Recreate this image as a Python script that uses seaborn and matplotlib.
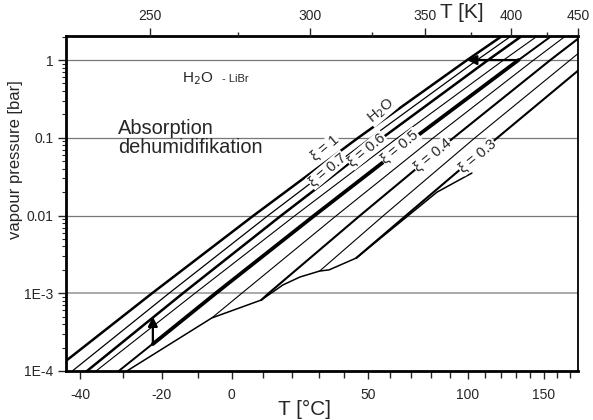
import numpy as np
import pandas as pd
import matplotlib
matplotlib.use("Agg")
import matplotlib.pyplot as plt
import seaborn as sns
from matplotlib.ticker import FixedLocator, LogLocator, NullFormatter

# --- data (T in degC, vapour pressure in bar) ---
p_levels = [1e-4, 1e-3, 1e-2, 0.1, 1.0, 2.04]

water_t = [-43.2, -22.6, 7.0, 45.8, 99.6, 120.9]
water_p = [1.35e-4, 1e-3, 1e-2, 0.1, 1.0, 2.04]

xi70_t = [-41.8, -18.1, 11.8, 51.1, 105.4, 126.9]
xi60_t = [-38.5, -14.3, 16.3, 56.4, 112.1, 134.1]
xi55_t = [-36.4, -10.9, 21.2, 63.4, 121.9, 145.1]
xi50_t = [-31.0, -4.8, 28.3, 71.6, 131.8, 155.6]

xi45_t = [-6.0, 3.2, 36.9, 81.1, 142.4, 166.7]
xi45_p = [4.81e-4, 1e-3, 1e-2, 0.1, 1.0, 2.04]
xi40_t = [9.5, 12.0, 46.6, 91.9, 154.7, 176.85]
xi40_p = [8.18e-4, 1e-3, 1e-2, 0.1, 1.0, 1.88]
xi35_t = [30.3, 56.9, 104.2, 176.85]
xi35_p = [1.93e-3, 1e-2, 0.1, 1.21]
xi30_t = [45.0, 67.4, 97.3, 117.9, 176.85]
xi30_p = [2.84e-3, 1e-2, 0.0421, 0.1, 0.73]

# crystallisation boundary
cryst_t = [-29.0, -6.0, 9.5, 16.9, 23.0, 30.3, 34.0, 45.0, 83.0, 102.4]
cryst_p = [1e-4, 4.81e-4, 8.18e-4, 1.28e-3, 1.62e-3, 1.93e-3, 2.0e-3, 2.84e-3, 2.0e-2, 3.52e-2]

# absorption process along xi = 0.5 (heavy)
proc_t = [-22.4, -4.8, 28.3, 71.6, 131.8]
proc_p = [2.22e-4, 1e-3, 1e-2, 0.1, 1.0]
arrow_up_t, arrow_up_p0, arrow_up_p1 = -22.4, 2.22e-4, 5.0e-4
arrow_left_t0, arrow_left_t1, arrow_left_p = 131.8, 99.6, 1.0

labels = ["ξ = 1", "ξ = 0.7", "ξ = 0.6", "ξ = 0.5", "ξ = 0.4", "ξ = 0.3"]
label_t = [32.4, 33.3, 49.6, 64.5, 80.6, 105.5]
label_p = [0.0738, 0.0385, 0.0695, 0.076, 0.060, 0.058]

bottom_ticks = [-40, -20, 0, 50, 100, 150]
bottom_minor = list(range(-40, 180, 10))
top_ticks_k = [250, 300, 350, 400, 450]
top_minor_k = [275, 325, 375, 425]
y_ticks = [1e-4, 1e-3, 1e-2, 1e-1, 1]
y_ticklabels = ["1E-4", "1E-3", "0.01", "0.1", "1"]

T_MIN, T_MAX = -43.2, 176.85
P_MIN, P_MAX = 1e-4, 2.04


def fwd(t):
    return -1000.0 / (np.asarray(t, dtype=float) + 273.15)


def inv(u):
    return -1000.0 / np.asarray(u, dtype=float) - 273.15


sns.set_theme(style="ticks")
plt.rcParams["font.family"] = ["Liberation Sans", "DejaVu Sans"]

fig, ax = plt.subplots(figsize=(5.93, 4.20), dpi=100)
fig.subplots_adjust(left=0.1113, right=0.9747, bottom=0.1167, top=0.9143)
ax.set_xscale("function", functions=(fwd, inv))
ax.set_yscale("log")

for y in y_ticks[1:]:
    ax.axhline(y, color="#777777" if y != 1e-3 else "#aaaaaa",
               lw=0.9 if y != 1e-3 else 1.4, zorder=1)

curves = [
    (water_t, water_p, 1.8),
    (xi70_t, p_levels, 0.9),
    (xi60_t, p_levels, 1.8),
    (xi55_t, p_levels, 0.8),
    (xi50_t, p_levels, 1.4),
    (xi45_t, xi45_p, 0.8),
    (xi40_t, xi40_p, 1.5),
    (xi35_t, xi35_p, 0.8),
    (xi30_t, xi30_p, 1.5),
    (cryst_t, cryst_p, 1.1),
    (proc_t, proc_p, 2.7),
]
for ts, ps, w in curves:
    sns.lineplot(x=ts, y=ps, ax=ax, color="black", lw=w, sort=False,
                 estimator=None)

ax.annotate("", xy=(arrow_up_t, arrow_up_p1), xytext=(arrow_up_t, arrow_up_p0),
            arrowprops=dict(arrowstyle="-|>", color="black", lw=1.6,
                            mutation_scale=14, shrinkA=0, shrinkB=0))
ax.annotate("", xy=(arrow_left_t1, arrow_left_p), xytext=(arrow_left_t0, arrow_left_p),
            arrowprops=dict(arrowstyle="-|>", color="black", lw=1.6,
                            mutation_scale=14, shrinkA=0, shrinkB=0))

for s, t, p in zip(labels, label_t, label_p):
    ax.text(t, p, s, rotation=40, fontsize=10.5, ha="center", va="center",
            rotation_mode="anchor", zorder=5,
            bbox=dict(facecolor="white", edgecolor="none", pad=0.5))
ax.text(55.7, 0.221, "H$_2$O", rotation=40, fontsize=10.5, ha="center", va="center",
        rotation_mode="anchor", zorder=5,
        bbox=dict(facecolor="white", edgecolor="none", pad=0.3))
ax.text(-14.6, 0.57, "H$_2$O", fontsize=11, ha="left", va="center")
ax.text(-3.0, 0.57, "- LiBr", fontsize=8, ha="left", va="center")
ax.text(-31.2, 0.099, "Absorption\ndehumidifikation", fontsize=14.4, ha="left",
        va="center", linespacing=1.0)

ax.set_xlim(T_MIN, T_MAX)
ax.set_ylim(P_MIN, P_MAX)

ax.xaxis.set_major_locator(FixedLocator(bottom_ticks))
ax.set_xticklabels([str(v) for v in bottom_ticks])
ax.xaxis.set_minor_locator(FixedLocator(bottom_minor))
ax.xaxis.set_minor_formatter(NullFormatter())
ax.yaxis.set_major_locator(FixedLocator(y_ticks))
ax.set_yticklabels(y_ticklabels)
ax.yaxis.set_minor_locator(LogLocator(base=10, subs=np.arange(2, 10)))
ax.yaxis.set_minor_formatter(NullFormatter())
ax.tick_params(axis="x", which="major", direction="out", length=6, width=1,
               labelsize=10, pad=6, top=False)
ax.tick_params(axis="x", which="minor", direction="out", length=5, width=1, top=False)
ax.tick_params(axis="y", which="major", direction="out", length=6, width=1,
               labelsize=10, pad=3, right=False)
ax.tick_params(axis="y", which="minor", direction="out", length=3, width=0.8, right=False)

for side in ["left", "bottom", "top"]:
    ax.spines[side].set_linewidth(2.0)
ax.spines["right"].set_linewidth(1.3)
for side in ax.spines:
    ax.spines[side].set_color("black")

ax2 = ax.twiny()
ax2.set_xscale("function", functions=(fwd, inv))
ax2.set_xlim(T_MIN, T_MAX)
ax2.xaxis.set_major_locator(FixedLocator([k - 273.15 for k in top_ticks_k]))
ax2.set_xticklabels([str(k) for k in top_ticks_k])
ax2.xaxis.set_minor_locator(FixedLocator([k - 273.15 for k in top_minor_k]))
ax2.xaxis.set_minor_formatter(NullFormatter())
ax2.tick_params(axis="x", which="major", direction="out", length=6, width=1,
                labelsize=10, pad=3)
ax2.tick_params(axis="x", which="minor", direction="out", length=3, width=1)
for side in ax2.spines:
    ax2.spines[side].set_visible(False)

ax.set_xlabel("")
ax.set_ylabel("")
fig.text(304 / 593, 1 - 409 / 420, "T [°C]", fontsize=15, ha="center", va="center")
fig.text(462 / 593, 1 - 13 / 420, "T [K]", fontsize=15, ha="center", va="center")
fig.text(16 / 593, 1 - 160 / 420, "vapour pressure [bar]", fontsize=12,
         rotation=90, ha="center", va="center")

fig.savefig("out.png", dpi=100)
